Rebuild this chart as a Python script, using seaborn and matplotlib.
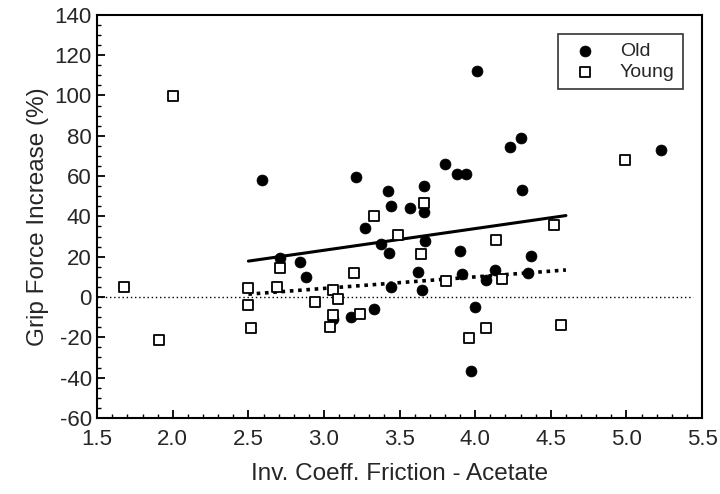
import matplotlib
matplotlib.use("Agg")
import matplotlib.pyplot as plt
import numpy as np
import pandas as pd
import seaborn as sns
from matplotlib.ticker import MultipleLocator

# values
old_x = [2.59, 3.21, 3.42, 3.44, 3.57, 4.01, 4.30, 4.23, 3.80, 3.88,
         3.94, 3.66, 4.31, 3.66, 5.23, 2.71, 2.84, 2.88, 3.06, 3.18,
         3.33, 3.27, 3.38, 3.43, 3.44, 3.67, 3.62, 3.65, 3.90, 3.91,
         4.00, 3.97, 4.07, 4.13, 4.35, 4.37]
old_y = [58.0, 59.7, 52.8, 45.0, 44.4, 111.9, 79.1, 74.3, 65.9, 61.2,
         61.2, 55.0, 53.2, 42.0, 72.8, 19.4, 17.3, 10.1, -10.9, -10.1,
         -5.9, 34.1, 26.1, 21.7, 4.9, 27.7, 12.6, 3.7, 22.9, 11.3,
         -4.9, -36.8, 8.5, 13.4, 11.8, 20.1]

young_x = [2.00, 3.33, 3.66, 4.99, 1.68, 1.91, 2.50, 2.50, 2.52, 2.71,
           2.69, 2.94, 3.06, 3.09, 3.06, 3.04, 3.24, 3.20, 3.49, 3.64,
           3.81, 4.07, 3.96, 4.18, 4.14, 4.52, 4.57]
young_y = [99.5, 40.1, 46.7, 68.0, 4.9, -21.4, 4.5, -3.8, -15.5, 14.6,
           5.2, -2.6, 3.4, -1.1, -8.7, -15.0, -8.4, 11.7, 30.8, 21.5,
           7.7, -15.3, -20.3, 9.1, 28.2, 35.8, -14.0]

# regression line end points
fit_x = [2.5, 4.6]
old_fit = [17.8, 40.4]
young_fit = [1.4, 13.4]

x_ticks = [1.5, 2.0, 2.5, 3.0, 3.5, 4.0, 4.5, 5.0, 5.5]
y_ticks = [-60, -40, -20, 0, 20, 40, 60, 80, 100, 120, 140]

sns.set_style("white")
plt.rcParams["font.family"] = ["Liberation Sans", "DejaVu Sans"]
plt.rcParams["axes.unicode_minus"] = False

fig = plt.figure(figsize=(7.2, 4.94), dpi=100)
ax = fig.add_axes([0.135, 0.154, 0.840, 0.816])

old_df = pd.DataFrame({"x": old_x, "y": old_y})
young_df = pd.DataFrame({"x": young_x, "y": young_y})

ax.axhline(0, xmin=0, xmax=0.985, color="black", lw=1.0,
           linestyle=(0, (1, 2)), zorder=1)

sns.lineplot(x=fit_x, y=old_fit, color="black", lw=2.2, ax=ax,
             legend=False, zorder=2)
sns.lineplot(x=fit_x, y=young_fit, color="black", lw=2.6, ax=ax,
             linestyle=(0, (1, 1.3)), legend=False, zorder=2)

sns.scatterplot(data=old_df, x="x", y="y", marker="o", s=62,
                color="black", edgecolor="black", linewidth=0.5,
                label="Old", ax=ax, zorder=3)
sns.scatterplot(data=young_df, x="x", y="y", marker="s", s=62,
                facecolor="white", edgecolor="black", linewidth=1.3,
                label="Young", ax=ax, zorder=4)

ax.set_xlim(1.5, 5.5)
ax.set_ylim(-60, 140)
ax.set_xticks(x_ticks)
ax.set_xticklabels([f"{v:.1f}" for v in x_ticks])
ax.set_yticks(y_ticks)
ax.xaxis.set_minor_locator(MultipleLocator(0.1))
ax.yaxis.set_minor_locator(MultipleLocator(5))
ax.tick_params(which="both", direction="in", top=False, right=False,
               bottom=True, left=True, color="black")
ax.tick_params(which="major", length=6, width=1.3, labelsize=16, pad=4)
ax.tick_params(axis="x", which="major", pad=8)
ax.tick_params(which="minor", length=3, width=1.0)

for side in ax.spines.values():
    side.set_color("black")
    side.set_linewidth(1.5)

ax.set_xlabel("Inv. Coeff. Friction - Acetate", fontsize=17.5, labelpad=9)
ax.set_ylabel("Grip Force Increase (%)", fontsize=17.5, labelpad=4)

leg = ax.legend(loc="upper right", fontsize=14, frameon=True, fancybox=False,
                edgecolor="black", borderaxespad=1.0, handletextpad=0.8,
                borderpad=0.4, labelspacing=0.2)
leg.get_frame().set_linewidth(1.2)

fig.savefig("out.png", dpi=100)
